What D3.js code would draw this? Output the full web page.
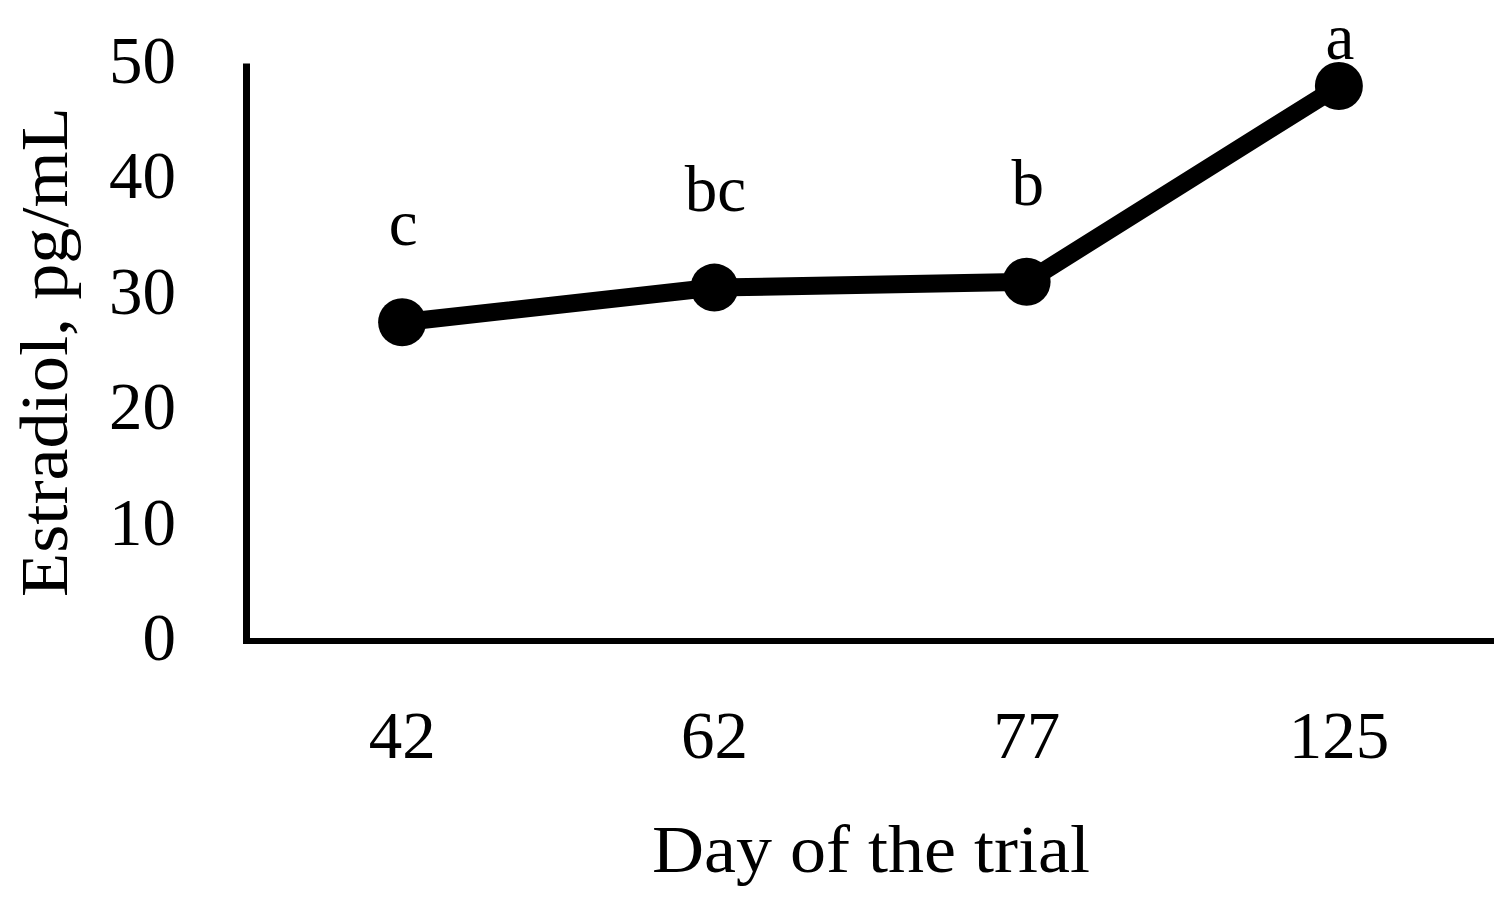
<!DOCTYPE html>
<html>
<head>
<meta charset="utf-8">
<script src="https://cdn.jsdelivr.net/npm/d3@7/dist/d3.min.js"></script>
<style>
  html, body { margin: 0; padding: 0; background: #fff; }
  svg { display: block; }
  text { font-family: "Liberation Serif", "Times New Roman", serif; fill: #000; }
</style>
</head>
<body>
<svg id="chart" width="1510" height="897"></svg>
<script>
// ---- data ----
const days = ["42", "62", "77", "125"];
const estradiol = [27.6, 30.6, 31.1, 48.05];
const letters = ["c", "bc", "b", "a"];
const yTicks = [0, 10, 20, 30, 40, 50];
const xTitle = "Day of the trial";
const yTitle = "Estradiol, pg/mL";

// ---- layout ----
const svg = d3.select("#chart");

const x = d3.scalePoint().domain(days).range([246, 1495]).padding(0.5);
const y = d3.scaleLinear().domain([0, 50]).range([641, 63.5]);

const FS = 67;
const LETTER_FS = 65;

// axis lines
svg.append("line")
  .attr("x1", 246.5).attr("x2", 246.5)
  .attr("y1", y(50)).attr("y2", y(0) + 3)
  .attr("stroke", "#000").attr("stroke-width", 7);
svg.append("line")
  .attr("x1", 243).attr("x2", 1494)
  .attr("y1", y(0)).attr("y2", y(0))
  .attr("stroke", "#000").attr("stroke-width", 6);

// y tick labels
svg.append("g").selectAll("text").data(yTicks).join("text")
  .attr("x", 176)
  .attr("y", d => y(d) + 19)
  .attr("text-anchor", "end")
  .attr("font-size", FS)
  .text(d => d);

// x tick labels
svg.append("g").selectAll("text").data(days).join("text")
  .attr("x", d => x(d))
  .attr("y", y(0) + 117)
  .attr("text-anchor", "middle")
  .attr("font-size", FS)
  .text(d => d);

// axis titles
svg.append("text")
  .attr("x", 871).attr("y", 872)
  .attr("text-anchor", "middle")
  .attr("font-size", FS)
  .attr("textLength", 438).attr("lengthAdjust", "spacingAndGlyphs")
  .text(xTitle);

svg.append("text")
  .attr("transform", "translate(67,352) rotate(-90)")
  .attr("text-anchor", "middle")
  .attr("font-size", FS)
  .attr("textLength", 490).attr("lengthAdjust", "spacingAndGlyphs")
  .text(yTitle);

// line
const pts = days.map((d, i) => [x(d), y(estradiol[i])]);
svg.append("path")
  .attr("d", d3.line()(pts))
  .attr("fill", "none")
  .attr("stroke", "#000")
  .attr("stroke-width", 18)
  .attr("stroke-linejoin", "round");

// markers
svg.append("g").selectAll("circle").data(pts).join("circle")
  .attr("cx", d => d[0]).attr("cy", d => d[1])
  .attr("r", 24)
  .attr("fill", "#000");

// significance letters (kept inside the top of the figure)
svg.append("g").selectAll("text").data(letters).join("text")
  .attr("x", (d, i) => x(days[i]) + 1)
  .attr("y", (d, i) => Math.max(y(estradiol[i]) - 77, 58.5))
  .attr("text-anchor", "middle")
  .attr("font-size", LETTER_FS)
  .text(d => d);
</script>
</body>
</html>
